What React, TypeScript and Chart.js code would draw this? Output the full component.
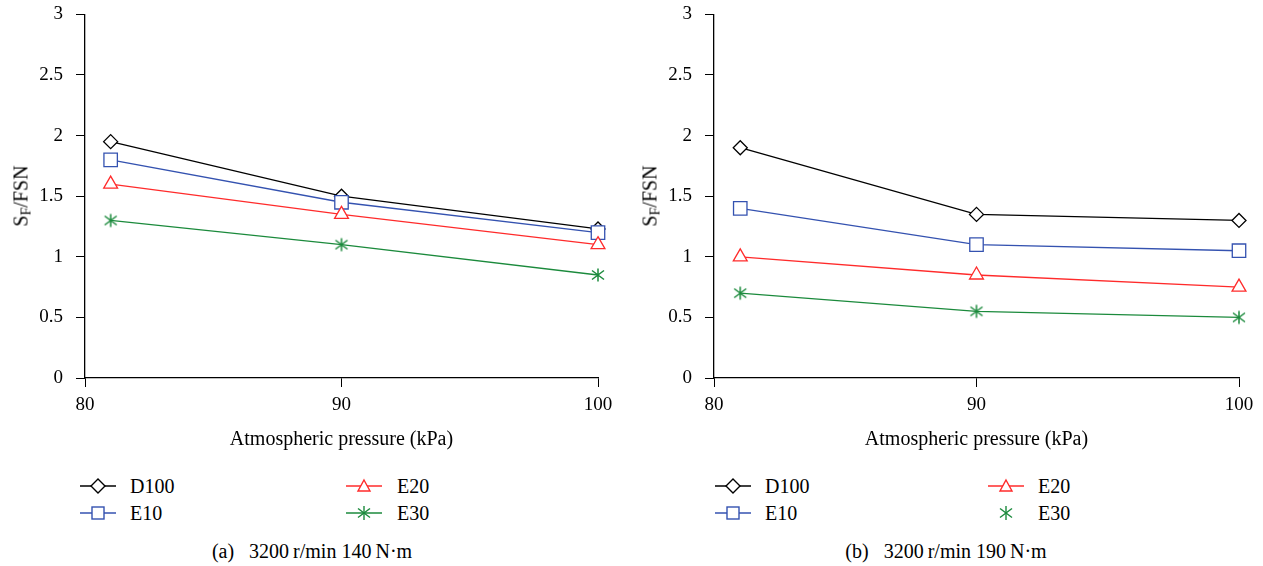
import React, { useEffect, useRef } from "react";
import { Chart, registerables } from "chart.js";

Chart.register(...registerables);

// ---------- data ----------
const pressures = [81, 90, 100];
const xTickValues = [80, 90, 100];
const seriesNames = ["D100", "E10", "E20", "E30"];

const panelA_D100 = [1.95, 1.5, 1.23];
const panelA_E10 = [1.8, 1.45, 1.2];
const panelA_E20 = [1.6, 1.35, 1.1];
const panelA_E30 = [1.3, 1.1, 0.85];

const panelB_D100 = [1.9, 1.35, 1.3];
const panelB_E10 = [1.4, 1.1, 1.05];
const panelB_E20 = [1.0, 0.85, 0.75];
const panelB_E30 = [0.7, 0.55, 0.5];

const yMin = 0;
const yMax = 3;
const yStep = 0.5;

const xTitle = "Atmospheric pressure (kPa)";
const captionA = "(a)\u2002 3200\u2009r/min 140\u2009N\u00B7m";
const captionB = "(b)\u2002 3200\u2009r/min 190\u2009N\u00B7m";

// ---------- style ----------
const FONT = "Liberation Serif, Times New Roman, serif";
const COLORS = ["#000000", "#3452b0", "#ff2b2b", "#1b8a3c"];
const STYLES = ["rectRot", "rect", "triangle", "asterisk"];
const RADII = [7, 9.5, 8, 7];

function makeAsterisk(color: string): HTMLCanvasElement {
  const c = document.createElement("canvas");
  c.width = 16;
  c.height = 16;
  const ctx = c.getContext("2d")!;
  ctx.strokeStyle = color;
  ctx.lineWidth = 1.5;
  ctx.beginPath();
  ctx.moveTo(8, 1.5);
  ctx.lineTo(8, 14.5);
  ctx.moveTo(2, 3.5);
  ctx.lineTo(14, 12.5);
  ctx.moveTo(2, 12.5);
  ctx.lineTo(14, 3.5);
  ctx.stroke();
  return c;
}

function fmt(v: number | string): string {
  const n = typeof v === "string" ? parseFloat(v) : v;
  return String(Math.round(n * 100) / 100);
}

type PanelProps = {
  left: number;
  width: number;
  yAxisWidth: number;
  rightPad: number;
  series: number[][];
};

const CANVAS_TOP = -10;
const CANVAS_H = 462;

function ChartPanel({ left, width, yAxisWidth, rightPad, series }: PanelProps) {
  const ref = useRef<HTMLCanvasElement | null>(null);
  useEffect(() => {
    if (!ref.current) return;
    const datasets = series.map((vals, i) => ({
      label: seriesNames[i],
      data: vals.map((v, j) => ({ x: pressures[j], y: v })),
      borderColor: COLORS[i],
      backgroundColor: "#ffffff",
      borderWidth: 1.3,
      pointStyle: STYLES[i] === "asterisk" ? makeAsterisk(COLORS[i]) : STYLES[i],
      pointRadius: RADII[i],
      pointBorderWidth: 1.3,
      pointBorderColor: COLORS[i],
      pointBackgroundColor: "#ffffff",
      tension: 0,
      clip: false as any,
      order: series.length - i,
    }));
    const chart = new Chart(ref.current, {
      type: "line",
      data: { datasets: datasets as any },
      options: {
        animation: false,
        responsive: false,
        maintainAspectRatio: false,
        layout: { padding: { top: 6, right: rightPad, left: 0, bottom: 0 }, autoPadding: false } as any,
        plugins: { legend: { display: false }, tooltip: { enabled: false } },
        scales: {
          x: {
            type: "linear",
            min: xTickValues[0],
            max: xTickValues[xTickValues.length - 1],
            afterBuildTicks: (s: any) => {
              s.ticks = xTickValues.map((v) => ({ value: v }));
            },
            ticks: { color: "#000", font: { family: FONT, size: 19 }, padding: 7, maxRotation: 0, callback: (v: any) => fmt(v) },
            grid: { drawOnChartArea: false, drawTicks: true, tickLength: 9, color: "#000", lineWidth: 1 },
            border: { color: "#000", width: 1.3 },
            title: {
              display: true,
              text: xTitle,
              color: "#000",
              font: { family: FONT, size: 20 },
              padding: { top: 0, bottom: 0 },
            },
            afterFit: (s: any) => {
              s.height = 74;
            },
          },
          y: {
            type: "linear",
            min: yMin,
            max: yMax,
            ticks: { stepSize: yStep, color: "#000", font: { family: FONT, size: 19 }, padding: 13, callback: (v: any) => fmt(v) },
            grid: { drawOnChartArea: false, drawTicks: true, tickLength: 9, color: "#000", lineWidth: 1 },
            border: { color: "#000", width: 1.3 },
            afterFit: (s: any) => {
              s.width = yAxisWidth;
            },
          },
        },
      },
    });
    return () => chart.destroy();
  }, []);
  return (
    <canvas
      ref={ref}
      width={width}
      height={CANVAS_H}
      style={{ position: "absolute", left, top: CANVAS_TOP, width, height: CANVAS_H }}
    />
  );
}

function LegendMarker({ kind, color, showLine }: { kind: string; color: string; showLine: boolean }) {
  const cx = 18;
  const cy = 8;
  let shape: React.ReactNode = null;
  if (kind === "rectRot") {
    shape = <polygon points={`${cx - 7},${cy} ${cx},${cy - 7} ${cx + 7},${cy} ${cx},${cy + 7}`} fill="#fff" stroke={color} strokeWidth={1.4} />;
  } else if (kind === "rect") {
    shape = <rect x={cx - 6} y={cy - 6} width={12} height={12} fill="#fff" stroke={color} strokeWidth={1.4} />;
  } else if (kind === "triangle") {
    shape = <polygon points={`${cx},${cy - 6} ${cx + 6},${cy + 5} ${cx - 6},${cy + 5}`} fill="#fff" stroke={color} strokeWidth={1.4} />;
  } else {
    shape = (
      <g stroke={color} strokeWidth={1.4}>
        <line x1={cx} y1={cy - 7} x2={cx} y2={cy + 7} />
        <line x1={cx - 6} y1={cy - 4.5} x2={cx + 6} y2={cy + 4.5} />
        <line x1={cx - 6} y1={cy + 4.5} x2={cx + 6} y2={cy - 4.5} />
      </g>
    );
  }
  return (
    <svg width={36} height={16} style={{ display: "block" }}>
      {showLine && <line x1={0} y1={cy} x2={36} y2={cy} stroke={color} strokeWidth={1.3} />}
      {shape}
    </svg>
  );
}

type LegendSpec = { name: string; idx: number; lineX: number; textX: number; y: number; showLine: boolean };

function LegendItem({ spec }: { spec: LegendSpec }) {
  return (
    <>
      <div style={{ position: "absolute", left: spec.lineX, top: spec.y - 8 }}>
        <LegendMarker kind={STYLES[spec.idx]} color={COLORS[spec.idx]} showLine={spec.showLine} />
      </div>
      <div
        style={{
          position: "absolute",
          left: spec.textX,
          top: spec.y,
          transform: "translateY(-50%)",
          fontFamily: FONT,
          fontSize: 20,
          color: "#000",
          whiteSpace: "nowrap",
          lineHeight: "20px",
        }}
      >
        {spec.name}
      </div>
    </>
  );
}

function YTitle({ x, y }: { x: number; y: number }) {
  return (
    <div
      style={{
        position: "absolute",
        left: x,
        top: y,
        transform: "translate(-50%, -50%) rotate(-90deg)",
        fontFamily: FONT,
        fontSize: 20,
        color: "#000",
        whiteSpace: "nowrap",
        lineHeight: "20px",
      }}
    >
      S<span style={{ fontSize: "14px", position: "relative", top: "3px" }}>F</span>/FSN
    </div>
  );
}

function Caption({ x, y, text }: { x: number; y: number; text: string }) {
  return (
    <div
      style={{
        position: "absolute",
        left: x,
        top: y,
        transform: "translate(-50%, -50%)",
        fontFamily: FONT,
        fontSize: 20,
        color: "#000",
        whiteSpace: "nowrap",
        lineHeight: "20px",
      }}
    >
      {text}
    </div>
  );
}

export default function App() {
  const legendA: LegendSpec[] = [
    { name: seriesNames[0], idx: 0, lineX: 80, textX: 130, y: 486, showLine: true },
    { name: seriesNames[1], idx: 1, lineX: 80, textX: 130, y: 513, showLine: true },
    { name: seriesNames[2], idx: 2, lineX: 346, textX: 397, y: 486, showLine: true },
    { name: seriesNames[3], idx: 3, lineX: 346, textX: 397, y: 513, showLine: true },
  ];
  const legendB: LegendSpec[] = [
    { name: seriesNames[0], idx: 0, lineX: 715, textX: 765, y: 486, showLine: true },
    { name: seriesNames[1], idx: 1, lineX: 715, textX: 765, y: 513, showLine: true },
    { name: seriesNames[2], idx: 2, lineX: 988, textX: 1038, y: 486, showLine: true },
    { name: seriesNames[3], idx: 3, lineX: 988, textX: 1038, y: 513, showLine: false },
  ];
  return (
    <div style={{ position: "absolute", left: 0, top: 0, width: 1263, height: 566, background: "#fff", overflow: "hidden" }}>
      <ChartPanel left={0} width={630} yAxisWidth={85} rightPad={32} series={[panelA_D100, panelA_E10, panelA_E20, panelA_E30]} />
      <ChartPanel left={630} width={633} yAxisWidth={84} rightPad={24} series={[panelB_D100, panelB_E10, panelB_E20, panelB_E30]} />
      <YTitle x={22} y={196} />
      <YTitle x={651} y={196} />
      {legendA.map((s) => (
        <LegendItem key={"a" + s.name} spec={s} />
      ))}
      {legendB.map((s) => (
        <LegendItem key={"b" + s.name} spec={s} />
      ))}
      <Caption x={312} y={551} text={captionA} />
      <Caption x={946} y={551} text={captionB} />
    </div>
  );
}
